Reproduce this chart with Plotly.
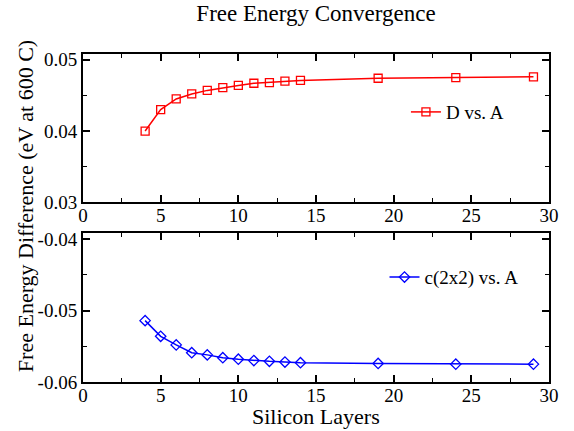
import plotly.graph_objects as go

layers = [4, 5, 6, 7, 8, 9, 10, 11, 12, 13, 14, 19, 24, 29]
d_vs_a = [0.0400, 0.0430, 0.0445, 0.0452, 0.0457, 0.0461, 0.0464, 0.0467,
          0.0468, 0.0470, 0.0471, 0.0474, 0.0475, 0.0476]
c2x2_vs_a = [-0.0514, -0.0536, -0.0548, -0.0559, -0.0562, -0.0566, -0.0568,
             -0.0570, -0.0571, -0.0572, -0.0573, -0.0574, -0.0575, -0.0575]

x_ticks = [0, 5, 10, 15, 20, 25, 30]
x_ticklabels = ["0", "5", "10", "15", "20", "25", "30"]
top_yticks = [0.03, 0.04, 0.05]
top_yticklabels = ["0.03", "0.04", "0.05"]
bot_yticks = [-0.06, -0.05, -0.04]
bot_yticklabels = ["-0.06", "-0.05", "-0.04"]

FONT = "Liberation Serif"

fig = go.Figure()
fig.add_trace(go.Scatter(
    x=layers, y=d_vs_a, mode="lines+markers", name="D vs. A", showlegend=True,
    line=dict(color="#ff0000", width=1.5),
    marker=dict(symbol="square-open", size=8, color="#ff0000", line=dict(width=1.3)),
    xaxis="x", yaxis="y", legend="legend"))
fig.add_trace(go.Scatter(
    x=layers, y=c2x2_vs_a, mode="lines+markers", name="c(2x2) vs. A", showlegend=True,
    line=dict(color="#0000ff", width=1.5),
    marker=dict(symbol="diamond-open", size=8, color="#0000ff", line=dict(width=1.3)),
    xaxis="x2", yaxis="y2", legend="legend2"))

axis_common = dict(
    showline=True, linecolor="black", linewidth=2, mirror="ticks",
    ticks="inside", ticklen=7, tickwidth=1.5, tickcolor="black",
    showgrid=False, zeroline=False,
    tickfont=dict(family=FONT, size=19, color="black"),
)
xminor = dict(dtick=2.5, ticks="inside", ticklen=4, tickwidth=1.2, tickcolor="black", showgrid=False)
yminor = dict(dtick=0.005, ticks="inside", ticklen=4, tickwidth=1.2, tickcolor="black", showgrid=False)

fig.update_layout(
    width=574, height=431,
    margin=dict(l=83, r=25, t=54, b=49),
    paper_bgcolor="white", plot_bgcolor="white",
    showlegend=True,
    font=dict(family=FONT, color="black"),
    title=dict(text="Free Energy Convergence", x=0.5, xref="paper", xanchor="center",
               y=1 - 13 / 431, yref="container", yanchor="middle",
               font=dict(family=FONT, size=23, color="black")),
    xaxis=dict(domain=[0, 1], anchor="y", range=[0, 30], tickmode="array",
               tickvals=x_ticks, ticktext=x_ticklabels, minor=xminor,
               ticklabelstandoff=-5, **axis_common),
    yaxis=dict(domain=[0.5475, 1], anchor="x", range=[0.03, 0.0508], tickmode="array",
               tickvals=top_yticks, ticktext=top_yticklabels, minor=yminor, **axis_common),
    xaxis2=dict(domain=[0, 1], anchor="y2", range=[0, 30], tickmode="array",
                tickvals=x_ticks, ticktext=x_ticklabels, minor=xminor,
                ticklabelstandoff=-5, **axis_common),
    yaxis2=dict(domain=[0, 0.4547], anchor="x2", range=[-0.06, -0.0391], tickmode="array",
                tickvals=bot_yticks, ticktext=bot_yticklabels, minor=yminor, **axis_common),
    legend=dict(x=0.693, y=0.823, xanchor="left", yanchor="middle",
                bgcolor="rgba(0,0,0,0)", itemwidth=30,
                font=dict(family=FONT, size=19, color="black")),
    legend2=dict(x=0.647, y=0.3195, xanchor="left", yanchor="middle",
                 bgcolor="rgba(0,0,0,0)", itemwidth=30,
                 font=dict(family=FONT, size=19, color="black")),
    annotations=[
        dict(text="Free Energy Difference (eV at 600 C)", textangle=-90,
             xref="paper", yref="paper", x=(25 - 83) / 466, y=(381.7 - 206) / 327.7,
             xanchor="center", yanchor="middle", showarrow=False,
             font=dict(family=FONT, size=22, color="black")),
        dict(text="Silicon Layers", xref="paper", yref="paper",
             x=0.5, y=(381.7 - 416) / 327.7, xanchor="center", yanchor="middle",
             showarrow=False, font=dict(family=FONT, size=22, color="black")),
    ],
)

fig.write_html("out.html")
